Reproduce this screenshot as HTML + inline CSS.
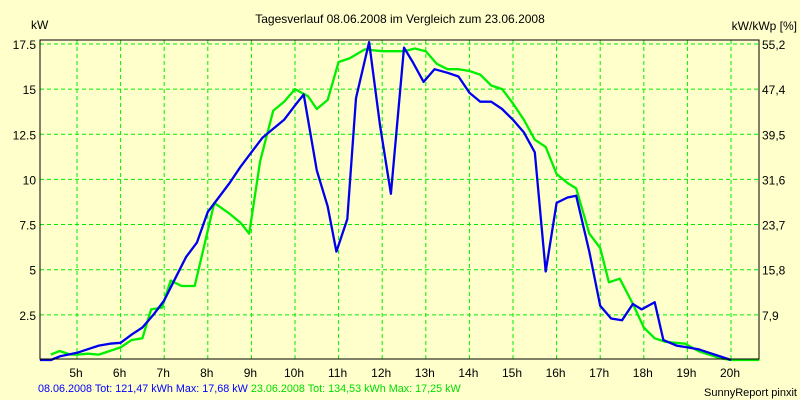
<!DOCTYPE html>
<html><head><meta charset="utf-8"><style>
body{margin:0;background:#ffffcc;}
svg{display:block;font-family:"Liberation Sans",sans-serif;}
</style></head><body>
<svg id="chart" width="800" height="400" viewBox="0 0 800 400" xmlns="http://www.w3.org/2000/svg">
<rect width="800" height="400" fill="#ffffcc"/>
<text x="400" y="23" text-anchor="middle" font-size="12">Tagesverlauf 08.06.2008 im Vergleich zum 23.06.2008</text>
<text x="31" y="29" font-size="12">kW</text>
<text x="797" y="30" text-anchor="end" font-size="12">kW/kWp [%]</text>
<g id="grid"></g>
<g id="series"></g>
<rect x="40" y="40" width="719" height="319" fill="none" stroke="#000" stroke-width="1"/>
<g id="labels"></g>
<text x="38" y="392" font-size="10.8"><tspan fill="#0000ff">08.06.2008 Tot: 121,47 kWh Max: 17,68 kW</tspan><tspan fill="#00dd00"> 23.06.2008 Tot: 134,53 kWh Max: 17,25 kW</tspan></text>
<text x="797" y="396" text-anchor="end" font-size="11">SunnyReport pinxit</text>
</svg>
<script>
const yTicks=[2.5,5,7.5,10,12.5,15,17.5];
const yTickLabels=["2.5","5","7.5","10","12.5","15","17.5"];
const yRightLabels=["7,9","15,8","23,7","31,6","39,5","47,4","55,2"];
const xHours=[5,6,7,8,9,10,11,12,13,14,15,16,17,18,19,20];
const blueT=[4.15,4.4,4.6,5.0,5.25,5.5,5.75,6.0,6.25,6.5,6.75,7.0,7.25,7.5,7.75,8.0,8.25,8.5,8.75,9.0,9.25,9.5,9.75,10.0,10.2,10.5,10.75,10.95,11.2,11.4,11.7,11.95,12.2,12.5,12.7,12.95,13.2,13.5,13.75,14.0,14.25,14.5,14.75,15.0,15.25,15.5,15.75,16.0,16.25,16.45,16.75,17.0,17.25,17.5,17.75,17.95,18.25,18.45,18.75,19.0,19.25,19.5,19.75,20.0];
const blueV=[0,0,0.2,0.4,0.6,0.8,0.9,0.95,1.4,1.8,2.5,3.3,4.5,5.7,6.5,8.2,9.0,9.8,10.7,11.5,12.3,12.8,13.3,14.1,14.7,10.5,8.5,6.0,7.8,14.5,17.6,13,9.2,17.3,16.5,15.4,16.1,15.9,15.7,14.8,14.3,14.3,13.9,13.3,12.6,11.5,4.9,8.7,9.0,9.1,6.0,3.0,2.3,2.2,3.1,2.8,3.2,1.1,0.8,0.7,0.6,0.4,0.2,0];
const greenT=[4.4,4.6,4.85,5.0,5.25,5.5,5.75,6.0,6.25,6.5,6.7,6.95,7.15,7.4,7.7,8.15,8.5,8.75,8.95,9.2,9.5,9.75,10.0,10.3,10.5,10.75,11.0,11.25,11.6,12.0,12.5,12.75,13.0,13.25,13.5,13.75,14.0,14.25,14.5,14.75,15.0,15.25,15.5,15.75,16.0,16.25,16.45,16.75,17.0,17.2,17.45,17.75,18.0,18.25,18.5,18.95,19.25,19.5,19.75,20.0,20.65];
const greenV=[0.3,0.5,0.3,0.3,0.35,0.3,0.5,0.7,1.1,1.2,2.8,2.9,4.4,4.1,4.1,8.7,8.1,7.6,7.0,11,13.8,14.3,15.0,14.6,13.9,14.4,16.5,16.7,17.2,17.1,17.1,17.25,17.1,16.4,16.1,16.1,16.0,15.8,15.2,15.0,14.2,13.3,12.2,11.8,10.3,9.8,9.5,7.0,6.2,4.3,4.5,3.1,1.8,1.2,1.0,0.9,0.5,0.3,0.1,0,0];
const NS="http://www.w3.org/2000/svg";
const xs=h=>77+(h-5)*43.6;
const ys=v=>360-v*18.06;
const grid=document.getElementById('grid'),lab=document.getElementById('labels'),ser=document.getElementById('series');
function mk(tag,attrs,parent){const e=document.createElementNS(NS,tag);for(const k in attrs)e.setAttribute(k,attrs[k]);parent.appendChild(e);return e;}
yTicks.forEach((v,i)=>{
 const l=mk('line',{x1:40,x2:759,y1:ys(v),y2:ys(v),stroke:'#00ee00','stroke-dasharray':'4,3'},grid);
 
 
 const t=mk('text',{x:36,y:ys(v)+5,'text-anchor':'end','font-size':'12'},lab);t.textContent=yTickLabels[i];
 
 
 const r=mk('text',{x:762,y:ys(v)+5,'font-size':'12'},lab);r.textContent=yRightLabels[i];
 
 
});
xHours.forEach(h=>{
 const l=mk('line',{x1:xs(h),x2:xs(h),y1:40,y2:359,stroke:'#00ee00','stroke-dasharray':'4,3'},grid);
 
 
 const t=mk('text',{x:xs(h)-1,y:377,'text-anchor':'middle','font-size':'12'},lab);t.textContent=h+'h';
 
 
});
function line(T,V,color,name){
 const p=mk('polyline',{points:T.map((t,i)=>xs(t).toFixed(1)+','+ys(V[i]).toFixed(1)).join(' '),fill:'none',stroke:color,'stroke-width':2.3,'stroke-linejoin':'round'},ser);
 
 
}
line(greenT,greenV,'#00ee00','series-23-06-2008');
line(blueT,blueV,'#0000ee','series-08-06-2008');
</script>
</body></html>
